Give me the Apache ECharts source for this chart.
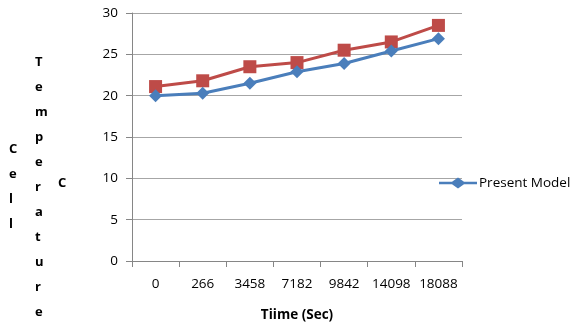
<!DOCTYPE html>
<html><head><meta charset="utf-8">
<script src="https://cdn.jsdelivr.net/npm/echarts@6/dist/echarts.min.js"></script>
<style>html,body{margin:0;padding:0;background:#fff}#c{width:581px;height:327px}</style>
</head><body><div id="c"></div>
<script>
var categories = ['0','266','3458','7182','9842','14098','18088'];
var presentModel = [20.0, 20.3, 21.5, 22.9, 23.9, 25.4, 26.9];
var otherSeries = [21.1, 21.8, 23.5, 24.0, 25.5, 26.5, 28.5];
var yTicks = {min: 0, max: 30, interval: 5};

var chart = echarts.init(document.getElementById('c'), null, {renderer: 'canvas'});
var font = 'Open Sans';
chart.setOption({
  animation: false,
  grid: {left: 132, right: 119, top: 13, bottom: 63, containLabel: false},
  legend: {
    data: [{name: 'Present Model', icon: 'path://M0,4.3L13,4.3L19,0L25,4.3L38,4.3L38,6.7L25,6.7L19,11L13,6.7L0,6.7Z'}],
    left: 434, top: 171, itemWidth: 38, itemHeight: 11, itemGap: 4,
    textStyle: {fontFamily: font, fontSize: 13.5, color: '#000', padding: [0, 0, 0, -3]}
  },
  xAxis: {
    type: 'category', data: categories, boundaryGap: true,
    name: 'Tiime (Sec)', nameLocation: 'middle', nameGap: 47,
    nameTextStyle: {fontFamily: font, fontSize: 13.5, fontWeight: 'bold', color: '#000'},
    axisLine: {lineStyle: {color: '#868686', width: 1}},
    axisTick: {show: true, alignWithLabel: false, interval: 0, length: 6, lineStyle: {color: '#868686'}},
    axisLabel: {interval: 0, margin: 16, fontFamily: font, fontSize: 13.5, color: '#000'},
    splitLine: {show: false}
  },
  yAxis: {
    type: 'value', min: yTicks.min, max: yTicks.max, interval: yTicks.interval,
    axisLine: {show: true, lineStyle: {color: '#868686', width: 1}},
    axisTick: {show: true, length: 6, lineStyle: {color: '#868686'}},
    axisLabel: {margin: 14, fontFamily: font, fontSize: 13.5, color: '#000'},
    splitLine: {lineStyle: {color: '#a6a6a6', width: 1}}
  },
  graphic: [
    {type: 'text', left: 9, top: 137, style: {text: 'C\ne\nl\nl', fontFamily: font, fontSize: 13, fontWeight: 'bold', lineHeight: 25, fill: '#000', align: 'center'}},
    {type: 'text', left: 35, top: 50, style: {text: 'T\ne\nm\np\ne\nr\na\nt\nu\nr\ne', fontFamily: font, fontSize: 13, fontWeight: 'bold', lineHeight: 25, fill: '#000', align: 'center'}},
    {type: 'text', left: 58, top: 177, style: {text: 'C', fontFamily: font, fontSize: 13, fontWeight: 'bold', fill: '#000'}}
  ],
  series: [
    {name: 'Present Model', type: 'line', data: presentModel, symbol: 'diamond', symbolSize: 13,
      lineStyle: {color: '#4a7ebb', width: 3}, itemStyle: {color: '#4a7ebb'}, z: 3},
    {name: 'Series 2', type: 'line', data: otherSeries, symbol: 'rect', symbolSize: 13,
      lineStyle: {color: '#be4b48', width: 3}, itemStyle: {color: '#be4b48'}, z: 2}
  ]
});
</script></body></html>
